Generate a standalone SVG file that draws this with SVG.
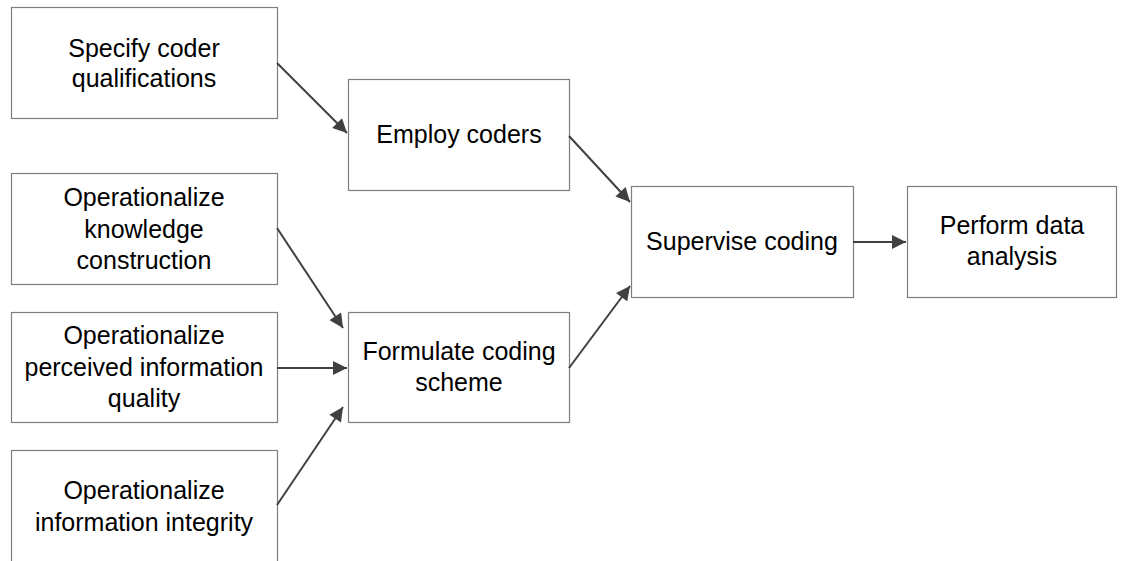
<svg xmlns="http://www.w3.org/2000/svg" width="1127" height="561" viewBox="0 0 1127 561">
<style>
.box{fill:#fff;stroke:#7f7f7f;stroke-width:1.2}
.t{font-family:"Liberation Sans",Arial,sans-serif;font-size:25px;fill:#000;text-anchor:middle}
.c{stroke:#404040;stroke-width:2;fill:none;marker-end:url(#ah)}
</style>
<defs>
<marker id="ah" viewBox="0 0 10 10" refX="10" refY="5" markerWidth="7.5" markerHeight="7" markerUnits="strokeWidth" orient="auto">
<path d="M0,0 L10,5 L0,10 z" fill="#404040"/>
</marker>
</defs>
<rect width="1127" height="561" fill="#fff"/>
<g id="n1"><rect class="box" x="11.5" y="7.5" width="266" height="111"/>
<text class="t" x="144" y="57">Specify coder</text><text class="t" x="144" y="87">qualifications</text></g>
<g id="n2"><rect class="box" x="348.5" y="79.5" width="221" height="111"/>
<text class="t" x="459" y="143">Employ coders</text></g>
<g id="n3"><rect class="box" x="11.5" y="173.5" width="266" height="111"/>
<text class="t" x="144" y="206">Operationalize</text><text class="t" x="144" y="238">knowledge</text><text class="t" x="144" y="269">construction</text></g>
<g id="n4"><rect class="box" x="11.5" y="312.5" width="266" height="110"/>
<text class="t" x="144" y="344">Operationalize</text><text class="t" x="144" y="376">perceived information</text><text class="t" x="144" y="407">quality</text></g>
<g id="n5"><rect class="box" x="348.5" y="312.5" width="221" height="110"/>
<text class="t" x="459" y="360">Formulate coding</text><text class="t" x="459" y="391">scheme</text></g>
<g id="n6"><rect class="box" x="11.5" y="450.5" width="266" height="120"/>
<text class="t" x="144" y="499">Operationalize</text><text class="t" x="144" y="531">information integrity</text></g>
<g id="n7"><rect class="box" x="631.5" y="186.5" width="222" height="111"/>
<text class="t" x="742" y="250">Supervise coding</text></g>
<g id="n8"><rect class="box" x="907.5" y="186.5" width="209" height="111"/>
<text class="t" x="1012" y="234">Perform data</text><text class="t" x="1012" y="265">analysis</text></g>
<g id="connectors">
<line class="c" x1="277" y1="63" x2="347" y2="133"/>
<line class="c" x1="569" y1="136" x2="630" y2="202"/>
<line class="c" x1="277" y1="228" x2="343" y2="328"/>
<line class="c" x1="277" y1="368" x2="347" y2="368"/>
<line class="c" x1="277" y1="505" x2="343" y2="407"/>
<line class="c" x1="569" y1="368" x2="630" y2="286"/>
<line class="c" x1="853" y1="242" x2="906" y2="242"/>
</g>
</svg>
